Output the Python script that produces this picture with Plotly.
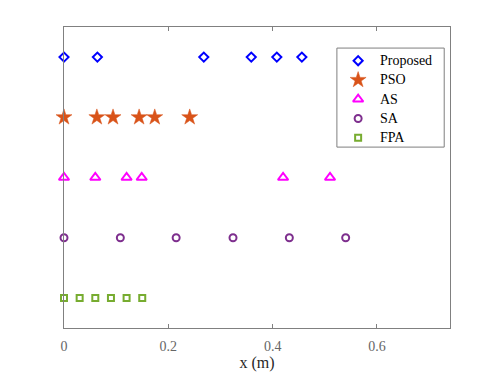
import plotly.graph_objects as go

# x positions (m) for each method
proposed_x = [0, 0.064, 0.268, 0.359, 0.408, 0.456]
pso_x = [0, 0.063, 0.094, 0.144, 0.174, 0.241]
as_x = [0, 0.060, 0.120, 0.149, 0.420, 0.510]
sa_x = [0, 0.108, 0.215, 0.324, 0.432, 0.540]
fpa_x = [0, 0.030, 0.060, 0.090, 0.120, 0.150]

names = ['Proposed', 'PSO', 'AS', 'SA', 'FPA']
rows = [5, 4, 3, 2, 1]
colors = ['#0000FF', '#D95319', '#FF00FF', '#7E2F8E', '#77AC30']
symbols = ['diamond-open', 'star', 'triangle-up-open', 'circle-open', 'square-open']
sizes = [7, 12, 9, 7, 6]
widths = [2, 0.5, 2, 2, 2]
all_x = [proposed_x, pso_x, as_x, sa_x, fpa_x]

fig = go.Figure()
for name, xs, row, c, s, sz, w in zip(names, all_x, rows, colors, symbols, sizes, widths):
    fig.add_scatter(x=xs, y=[row] * len(xs), mode='markers', name=name,
                    cliponaxis=False, showlegend=False,
                    marker=dict(color=c, symbol=s, size=sz,
                                line=dict(color=c, width=w)))

# hand-made legend (MATLAB-style, tighter rows than plotly's own legend),
# drawn on a hidden 0..1 overlay axis
leg_x0, leg_x1, leg_y0, leg_y1 = 0.707, 0.985, 0.601, 0.930
leg_top, leg_step = 0.888, 0.064
leg_sym_x, leg_txt_x = 0.762, 0.813
for i, (name, c, s, sz, w) in enumerate(zip(names, colors, symbols, sizes, widths)):
    yy = leg_top - i * leg_step
    fig.add_scatter(x=[leg_sym_x], y=[yy], xaxis='x2', yaxis='y2',
                    mode='markers', showlegend=False, hoverinfo='skip',
                    marker=dict(color=c, symbol=s, size=sz,
                                line=dict(color=c, width=w)))
    fig.add_annotation(x=leg_txt_x, y=yy, xref='paper', yref='paper',
                       text=name, showarrow=False, xanchor='left',
                       yanchor='middle',
                       font=dict(family='Liberation Serif', size=14,
                                 color='#000000'))
fig.add_shape(type='rect', xref='paper', yref='paper',
              x0=leg_x0, x1=leg_x1, y0=leg_y0, y1=leg_y1,
              line=dict(color='#7f7f7f', width=1), fillcolor='white',
              layer='below')

# page body has an 8px margin, so the figure is sized to fit inside it
fig.update_layout(
    width=489, height=365,
    margin=dict(l=56, r=47, t=19, b=45),
    paper_bgcolor='white', plot_bgcolor='white',
    font=dict(family='Liberation Serif', size=14, color='#262626'),
    showlegend=False,
    xaxis=dict(range=[0, 0.74], tickvals=[0, 0.2, 0.4, 0.6],
               ticktext=['0', '0.2', '0.4', '0.6'],
               ticks='inside', ticklen=4, tickcolor='#808080',
               ticklabelstandoff=5, automargin=False,
               showline=True, linecolor='#808080', linewidth=1, mirror='ticks',
               showgrid=False, zeroline=False,
               tickfont=dict(size=14, color='#666666'),
               title=dict(text='x (m)', font=dict(size=16, color='#262626'),
                          standoff=4)),
    yaxis=dict(range=[0.5, 5.5], showticklabels=False, ticks='',
               showline=True, linecolor='#808080', linewidth=1, mirror=True,
               showgrid=False, zeroline=False, automargin=False),
    xaxis2=dict(overlaying='x', range=[0, 1], visible=False),
    yaxis2=dict(overlaying='y', range=[0, 1], visible=False),
)

fig.write_html("out.html")
